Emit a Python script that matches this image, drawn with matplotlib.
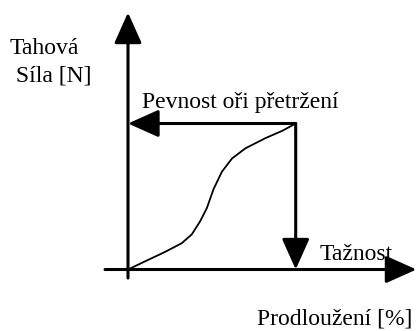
import matplotlib
matplotlib.use('Agg')
import matplotlib.pyplot as plt

plt.rcParams['font.family'] = ['Liberation Serif', 'DejaVu Serif']

# schematic tensile test curve (elongation vs. force, arbitrary units)
elongation = [0, 1.0, 2.2, 3.2, 3.8, 4.3, 4.7, 5.1, 5.6, 6.2, 7.0, 8.2, 9.2, 10.0]
force = [0, 0.55, 1.2, 1.8, 2.4, 3.3, 4.2, 5.5, 6.7, 7.6, 8.3, 9.0, 9.5, 10.0]

x_label = "Prodloužení [%]"
break_label = "Pevnost oři přetržení"
ductility_label = "Tažnost"

W, H = 416, 331
fig = plt.figure(figsize=(W / 100, H / 100), dpi=100)
ax = fig.add_axes([0, 0, 1, 1])
ax.set_xlim(-7.633, 17.174)
ax.set_ylim(-4.212, 18.459)
ax.axis('off')

ARROW = dict(arrowstyle='-|>,head_length=1.9,head_width=0.85', mutation_scale=10,
             lw=2.2, color='black', shrinkA=0, shrinkB=0)


def arrow(x0, y0, x1, y1):
    ax.annotate('', xy=(x1, y1), xytext=(x0, y0), arrowprops=ARROW,
                annotation_clip=False)


# axes with arrow heads
arrow(-1.37, 0, 17.2, 0)
arrow(0, -0.58, 0, 17.6)

# the curve itself
ax.plot(elongation, force, color='black', lw=1.3, solid_joinstyle='round')

# break point projections
x_break, f_break = elongation[-1], force[-1]
arrow(x_break, f_break, 0, f_break)
arrow(x_break, f_break, x_break, 0)


def label(text, px, py):
    fig.text(px / W, 1 - py / H, text, fontsize=17, va='baseline', ha='left')


label("Tahová", 10, 54)
label(" Síla [N]", 10, 82)
label(break_label, 142, 108)
label(ductility_label, 320, 260)
label(x_label, 257, 325)

fig.savefig('out.png', dpi=100)
